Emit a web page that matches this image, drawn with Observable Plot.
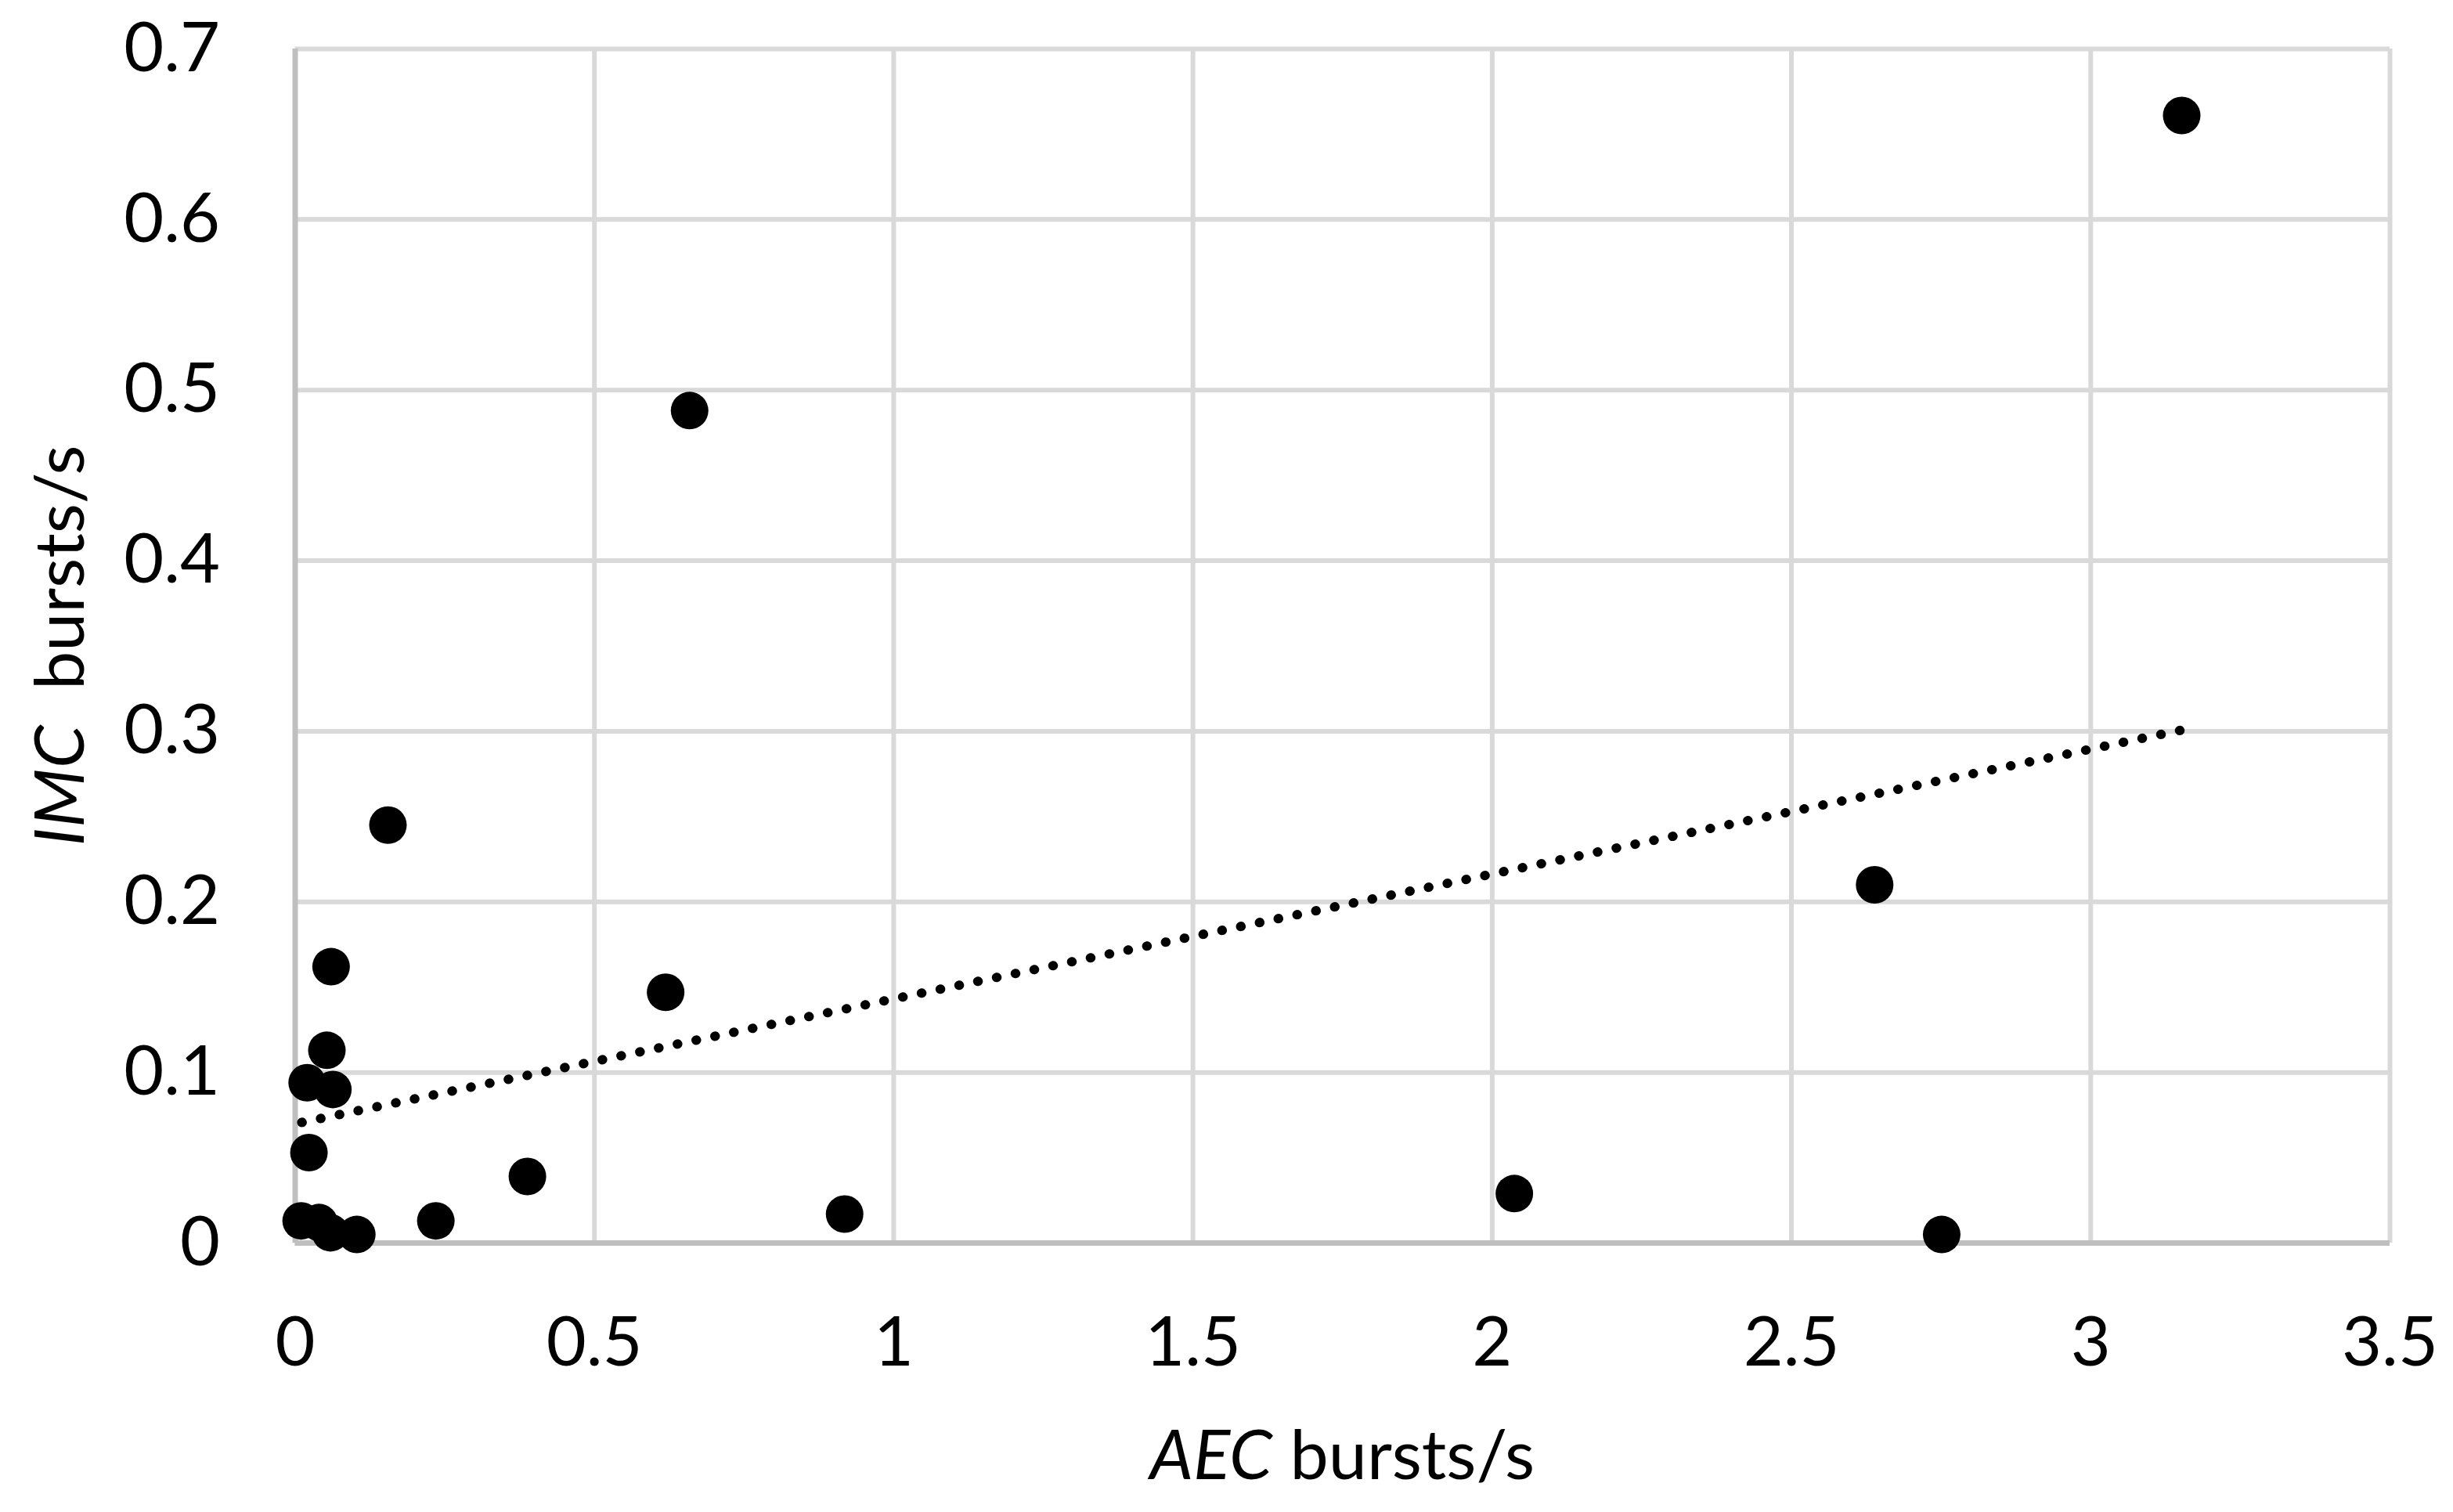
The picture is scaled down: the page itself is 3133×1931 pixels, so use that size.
<!DOCTYPE html>
<html>
<head>
<meta charset="utf-8">
<script src="https://cdn.jsdelivr.net/npm/d3@7"></script>
<script src="https://cdn.jsdelivr.net/npm/@observablehq/plot@0.6"></script>
<style>
  html, body { margin: 0; padding: 0; background: #ffffff; }
  #chart { width: 3133px; height: 1931px; }
</style>
</head>
<body>
<div id="chart"></div>
<script>
// AEC bursts/s (x) and IMC bursts/s (y)
const aecRate = [3.152, 0.659, 0.155, 2.639, 0.060, 0.619, 0.053, 0.020, 0.063, 0.023,
                 0.388, 0.918, 2.037, 0.010, 0.040, 0.059, 0.103, 0.235, 2.751];
const imcRate = [0.661, 0.488, 0.245, 0.210, 0.162, 0.147, 0.113, 0.094, 0.090, 0.053,
                 0.039, 0.017, 0.029, 0.013, 0.012, 0.006, 0.005, 0.013, 0.005];

// Linear trendline end points
const trendX = [0.011, 3.152];
const trendY = [0.0707, 0.3007];

const xTicks = [0, 0.5, 1, 1.5, 2, 2.5, 3, 3.5];
const xTickLabels = ["0", "0.5", "1", "1.5", "2", "2.5", "3", "3.5"];
const yTicks = [0, 0.1, 0.2, 0.3, 0.4, 0.5, 0.6, 0.7];
const yTickLabels = ["0", "0.1", "0.2", "0.3", "0.4", "0.5", "0.6", "0.7"];

const xTitleItalic = "AEC";
const xTitleRest = " bursts/s";
const yTitleItalic = "IMC";
const yTitleRest = "\u00A0 bursts/s";

const points = aecRate.map((x, i) => ({x, y: imcRate[i]}));
const trend = trendX.map((x, i) => ({x, y: trendY[i]}));

const W = 3133, H = 1931;
const mL = 376.5, mR = 81, mT = 62, mB = 344;
const FS = 88;

const chart = Plot.plot({
  width: W,
  height: H,
  marginLeft: mL,
  marginRight: mR,
  marginTop: mT,
  marginBottom: mB,
  style: {fontFamily: "Lato, 'Open Sans', sans-serif", fontSize: FS + "px", background: "#ffffff", color: "#000000"},
  x: {domain: [0, 3.5]},
  y: {domain: [0, 0.7]},
  marks: [
    Plot.gridX(xTicks, {stroke: "#d9d9d9", strokeWidth: 6, strokeOpacity: 1}),
    Plot.gridY(yTicks, {stroke: "#d9d9d9", strokeWidth: 6, strokeOpacity: 1}),
    Plot.ruleX([0], {stroke: "#bfbfbf", strokeWidth: 7}),
    Plot.ruleY([0], {stroke: "#bfbfbf", strokeWidth: 7}),
    Plot.axisX(xTicks, {
      tickSize: 0, tickPadding: 94, fontSize: FS, label: null,
      tickFormat: (d) => xTickLabels[xTicks.indexOf(d)], fill: "#000000"
    }),
    Plot.axisY(yTicks, {
      tickSize: 0, tickPadding: 96, fontSize: FS, label: null,
      tickFormat: (d) => yTickLabels[yTicks.indexOf(d)], fill: "#000000"
    }),
    Plot.line(trend, {
      x: "x", y: "y", stroke: "#000000", strokeWidth: 12,
      strokeDasharray: "0.5 24", strokeLinecap: "round"
    }),
    Plot.dot(points, {x: "x", y: "y", r: 24, fill: "#000000", stroke: "none"})
  ]
});

document.getElementById("chart").appendChild(chart);

// Axis titles with mixed italic
const svg = d3.select(chart);
const xs = chart.scale("x"), ys = chart.scale("y");
const cx = (xs.apply(0) + xs.apply(3.5)) / 2;
const cy = (ys.apply(0) + ys.apply(0.7)) / 2;

const xt = svg.append("text")
  .attr("x", cx).attr("y", 1889)
  .attr("text-anchor", "middle")
  .attr("font-family", "Lato, 'Open Sans', sans-serif")
  .attr("font-size", FS).attr("fill", "#000000");
xt.append("tspan").attr("font-style", "italic").text(xTitleItalic);
xt.append("tspan").text(xTitleRest);

const yt = svg.append("text")
  .attr("transform", `translate(107,${cy}) rotate(-90)`)
  .attr("text-anchor", "middle")
  .attr("font-family", "Lato, 'Open Sans', sans-serif")
  .attr("font-size", FS).attr("fill", "#000000");
yt.append("tspan").attr("font-style", "italic").text(yTitleItalic);
yt.append("tspan").text(yTitleRest);
</script>
</body>
</html>
